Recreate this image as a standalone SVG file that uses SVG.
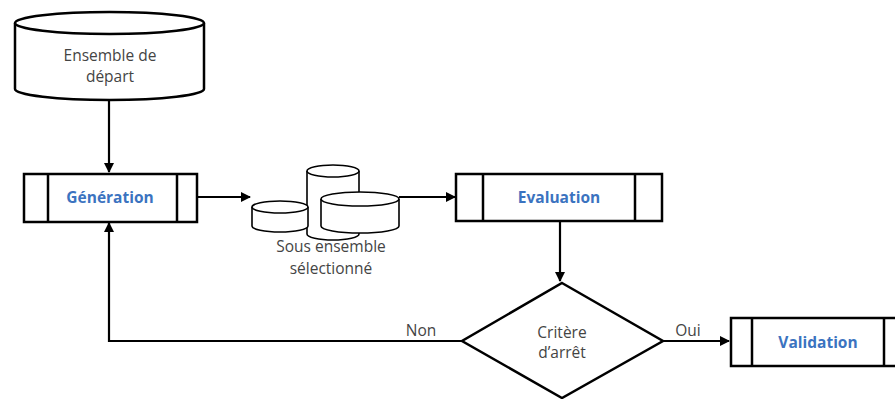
<svg xmlns="http://www.w3.org/2000/svg" width="895" height="399" viewBox="0 0 895 399">
<style>
.shape{fill:#fff;stroke:#000;stroke-width:2.5}
.thin{fill:#fff;stroke:#000;stroke-width:1.6}
.conn{fill:none;stroke:#000;stroke-width:2.2}
.lbl{font-family:"Open Sans","Liberation Sans",sans-serif;font-size:15.5px;fill:#444;text-anchor:middle}
.blue{font-family:"Open Sans","Liberation Sans",sans-serif;font-size:15.5px;font-weight:bold;fill:#3b73c0;text-anchor:middle}
</style>
<defs>
<marker id="ah" markerWidth="10" markerHeight="10" refX="9" refY="5" orient="auto" markerUnits="userSpaceOnUse">
<path d="M0,0 L10,5 L0,10 z" fill="#000"/>
</marker>
</defs>
<rect width="895" height="399" fill="#fff"/>
<g id="connectors">
<line class="conn" x1="109" y1="100" x2="109" y2="172" marker-end="url(#ah)"/>
<line class="conn" x1="198" y1="197" x2="250" y2="197" marker-end="url(#ah)"/>
<line class="conn" x1="399" y1="197" x2="455" y2="197" stroke-width="1.6" marker-end="url(#ah)"/>
<line class="conn" x1="560" y1="222" x2="560" y2="281" marker-end="url(#ah)"/>
<polyline class="conn" points="462,341 109,341 109,223" marker-end="url(#ah)"/>
<line class="conn" x1="663" y1="341" x2="729" y2="341" marker-end="url(#ah)"/>
<text class="lbl" x="421" y="336">Non</text>
<text class="lbl" x="688" y="336">Oui</text>
</g>
<g id="ensemble">
<path class="shape" d="M15,23 L15,89 A94.5,11 0 0 0 204,89 L204,23"/>
<ellipse class="shape" cx="109.5" cy="23" rx="94.5" ry="11"/>
<text class="lbl" x="110" y="61">Ensemble de</text>
<text class="lbl" x="110" y="82">départ</text>
</g>
<g id="generation">
<rect class="shape" x="24" y="174" width="173" height="48"/>
<line class="shape" x1="48" y1="174" x2="48" y2="222"/>
<line class="shape" x1="177" y1="174" x2="177" y2="222"/>
<text class="blue" x="110" y="203">Génération</text>
</g>
<g id="sous-ensemble">
<path class="thin" d="M307,171 L307,234 A26,6 0 0 0 359,234 L359,171"/>
<ellipse class="thin" cx="333" cy="171" rx="26" ry="6"/>
<path class="thin" d="M252,207 L252,226 A28,6 0 0 0 308,226 L308,207"/>
<ellipse class="thin" cx="280" cy="207" rx="28" ry="6"/>
<path class="thin" d="M321,199 L321,226 A39,7 0 0 0 399,226 L399,199"/>
<ellipse class="thin" cx="360" cy="199" rx="39" ry="7"/>
<text class="lbl" x="331" y="252">Sous ensemble</text>
<text class="lbl" x="331" y="274">sélectionné</text>
</g>
<g id="evaluation">
<rect class="shape" x="456" y="174" width="206" height="47"/>
<line class="shape" x1="483" y1="174" x2="483" y2="221"/>
<line class="shape" x1="635" y1="174" x2="635" y2="221"/>
<text class="blue" x="559" y="203">Evaluation</text>
</g>
<g id="critere">
<polygon class="shape" points="562,283 663,341 562,398 462,341"/>
<text class="lbl" x="562" y="338">Critère</text>
<text class="lbl" x="562" y="358">d’arrêt</text>
</g>
<g id="validation">
<rect class="shape" x="731" y="318" width="170" height="48"/>
<line class="shape" x1="752" y1="318" x2="752" y2="366"/>
<line class="shape" x1="884" y1="318" x2="884" y2="366"/>
<text class="blue" x="818" y="348">Validation</text>
</g>
</svg>
